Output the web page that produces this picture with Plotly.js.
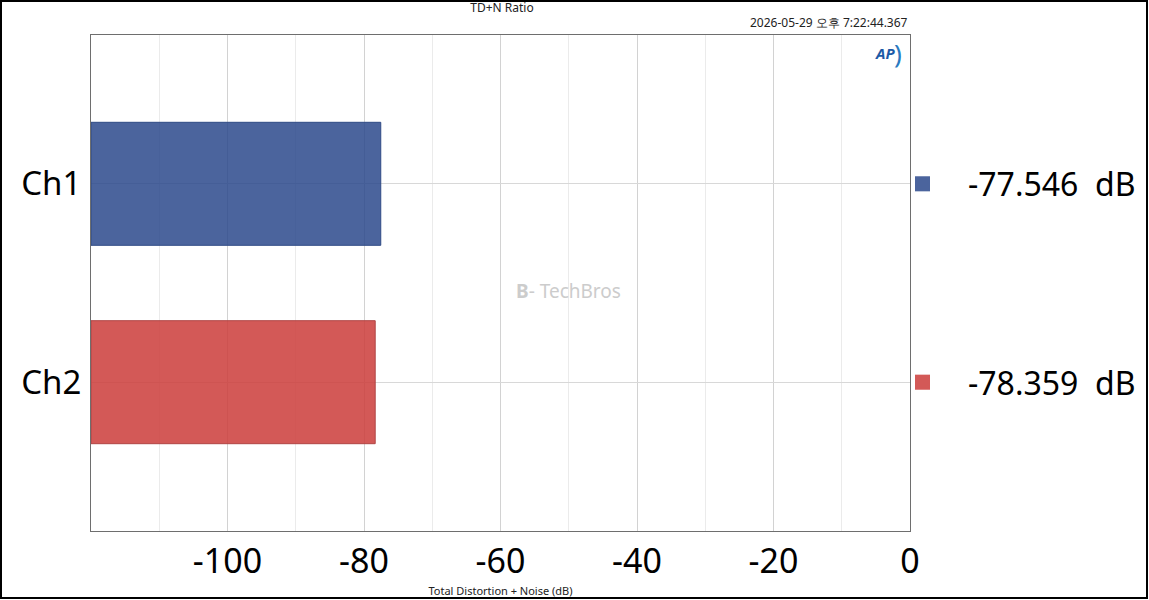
<!DOCTYPE html>
<html>
<head>
<meta charset="utf-8">
<script src="https://cdn.plot.ly/plotly-3.0.1.min.js"></script>
<style>
html,body{margin:0;padding:0;background:#fff;}
#wrap{position:relative;width:1149px;height:600px;}
#chart{width:1149px;height:600px;}
#frame{position:absolute;left:0;top:0;width:1148px;height:599px;box-sizing:border-box;border:2px solid #000;pointer-events:none;}
</style>
</head>
<body>
<div id="wrap"><div id="chart"></div><div id="frame"></div></div>
<script>
// ---- data ----
const channels = ['Ch1', 'Ch2'];
const tdnValues = [-77.546, -78.359];
const barColors = ['rgba(43,73,140,0.85)', 'rgba(204,64,62,0.87)'];
const edgeColors = ['#2f4a85', '#b04444'];
const unitLabel = 'dB';
const chartTitle = 'TD+N Ratio';
const xAxisTitle = 'Total Distortion + Noise (dB)';
const timestamp = '2026-05-29 오후 7:22:44.367';
const axisFloor = -120;
const xTicks = [-100, -80, -60, -40, -20, 0];

const FONT = '"Noto Sans", "Open Sans", sans-serif';

const trace = {
  type: 'bar',
  orientation: 'h',
  y: channels,
  base: channels.map(() => axisFloor),
  x: tdnValues.map(v => v - axisFloor),
  width: 0.62,
  marker: { color: barColors, line: { color: edgeColors, width: 1 } },
  hoverinfo: 'skip',
  showlegend: false
};

const annotations = [];
const shapes = [];
channels.forEach((c, i) => {
  annotations.push({
    xref: 'paper', yref: 'y', x: 1.0684, y: c, xanchor: 'left', yanchor: 'middle',
    text: tdnValues[i].toFixed(3) + '\u00a0\u00a0' + unitLabel, showarrow: false,
    font: { family: FONT, size: 32, color: '#000' }
  });
  shapes.push({
    type: 'rect', xref: 'paper', yref: 'y',
    x0: 1.0061, x1: 1.0244, y0: i - 0.038, y1: i + 0.038,
    fillcolor: barColors[i], line: { width: 0 }
  });
});
annotations.push({
  xref: 'paper', yref: 'paper', x: 1, y: 1.026, xanchor: 'right', yanchor: 'middle',
  text: timestamp, showarrow: false, font: { family: FONT, size: 12, color: '#222' }
});
annotations.push({
  xref: 'paper', yref: 'paper', x: 0.969, y: 0.964, xanchor: 'center', yanchor: 'middle',
  text: '<b><i>AP</i></b>', showarrow: false, font: { family: FONT, size: 15, color: '#1d5aa6' }
});
annotations.push({
  xref: 'paper', yref: 'paper', x: 0.985, y: 0.964, xanchor: 'center', yanchor: 'middle',
  text: ')', showarrow: false, font: { family: FONT, size: 26, color: '#2a7ac0' }
});
annotations.push({
  xref: 'paper', yref: 'paper', x: 0.583, y: 0.484, xanchor: 'center', yanchor: 'middle',
  text: '<b>B</b>-\u00a0TechBros', showarrow: false, font: { family: FONT, size: 19, color: '#cccccc' }
});

const layout = {
  width: 1149, height: 600,
  margin: { l: 91, r: 239, t: 35, b: 69, pad: 0 },
  paper_bgcolor: '#fff', plot_bgcolor: '#fff',
  title: { text: chartTitle, x: 502 / 1149, xanchor: 'center', y: 0.987, yanchor: 'middle',
           font: { family: FONT, size: 12, color: '#222' } },
  xaxis: {
    range: [axisFloor, 0], tickvals: xTicks, ticktext: xTicks.map(String),
    showgrid: true, gridcolor: '#d2d2d2', gridwidth: 1,
    minor: { dtick: 10, showgrid: true, gridcolor: '#ebebeb', gridwidth: 1, ticks: '' },
    showline: true, linecolor: '#6e6e6e', linewidth: 1, mirror: true,
    ticks: '', zeroline: false,
    tickfont: { family: FONT, size: 34, color: '#000' },
    title: { text: xAxisTitle, standoff: 2, font: { family: FONT, size: 11, color: '#222' } }
  },
  yaxis: {
    type: 'category', range: [1.75, -0.75],
    showgrid: true, gridcolor: '#d8d8d8', gridwidth: 1,
    showline: true, linecolor: '#6e6e6e', linewidth: 1, mirror: true,
    ticks: '', zeroline: false, ticklabelstandoff: 2,
    tickfont: { family: FONT, size: 33, color: '#000' }
  },
  annotations: annotations,
  shapes: shapes
};

Plotly.newPlot('chart', [trace], layout, { staticPlot: true, displayModeBar: false });
</script>
</body>
</html>
